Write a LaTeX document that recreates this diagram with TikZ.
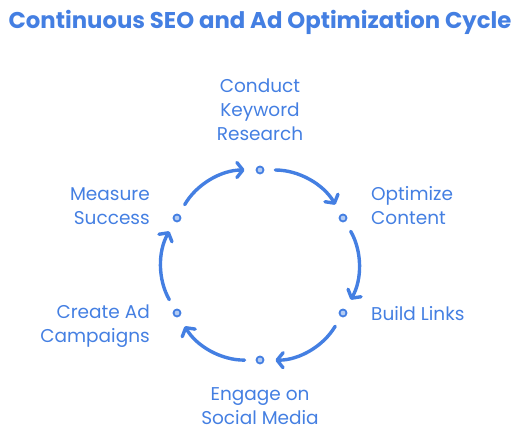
\documentclass[tikz,border=0pt]{standalone}
\usepackage{fontspec}
\setmainfont{Poppins}
\usetikzlibrary{arrows.meta}
\definecolor{cyc}{RGB}{68,127,226}
\tikzset{
  dot/.style={circle,draw=cyc,fill=cyc!40,line width=1.8pt,inner sep=0pt,minimum size=7pt},
  lbl/.style={text=cyc,font=\fontsize{18.5}{24}\selectfont,inner sep=0pt},
  link/.style={draw=cyc,line width=3.4pt,line cap=round,bend left=30,shorten <=11pt,shorten >=11pt,
    -{Straight Barb[length=6pt,width=15pt,line width=3.4pt,round]}}
}
\begin{document}
\begin{tikzpicture}[x=1pt,y=1pt]
\useasboundingbox (0,0) rectangle (520,435);
\node[text=cyc,font=\fontsize{22.8}{26}\selectfont\bfseries] (title) at (260,413) {Continuous SEO and Ad Optimization Cycle};
\node[dot] (d1) at (260,265) {};
\node[dot] (d2) at (343,217) {};
\node[dot] (d3) at (343,122) {};
\node[dot] (d4) at (260,75) {};
\node[dot] (d5) at (177,122) {};
\node[dot] (d6) at (177,217) {};
\draw[link] (d1) to (d2);
\draw[link] (d2) to (d3);
\draw[link] (d3) to (d4);
\draw[link] (d4) to (d5);
\draw[link] (d5) to (d6);
\draw[link] (d6) to (d1);
\node[lbl,align=center] (l1) at (260,325) {Conduct\\Keyword\\Research};
\node[lbl,align=left,anchor=west] (l2) at (371,229) {Optimize\\Content};
\node[lbl,align=left,anchor=west] (l3) at (371,121) {Build Links};
\node[lbl,align=center] (l4) at (260,29) {Engage on\\Social Media};
\node[lbl,align=right,anchor=east] (l5) at (150,109) {Create Ad\\Campaigns};
\node[lbl,align=right,anchor=east] (l6) at (150,229) {Measure\\Success};
\end{tikzpicture}
\end{document}
